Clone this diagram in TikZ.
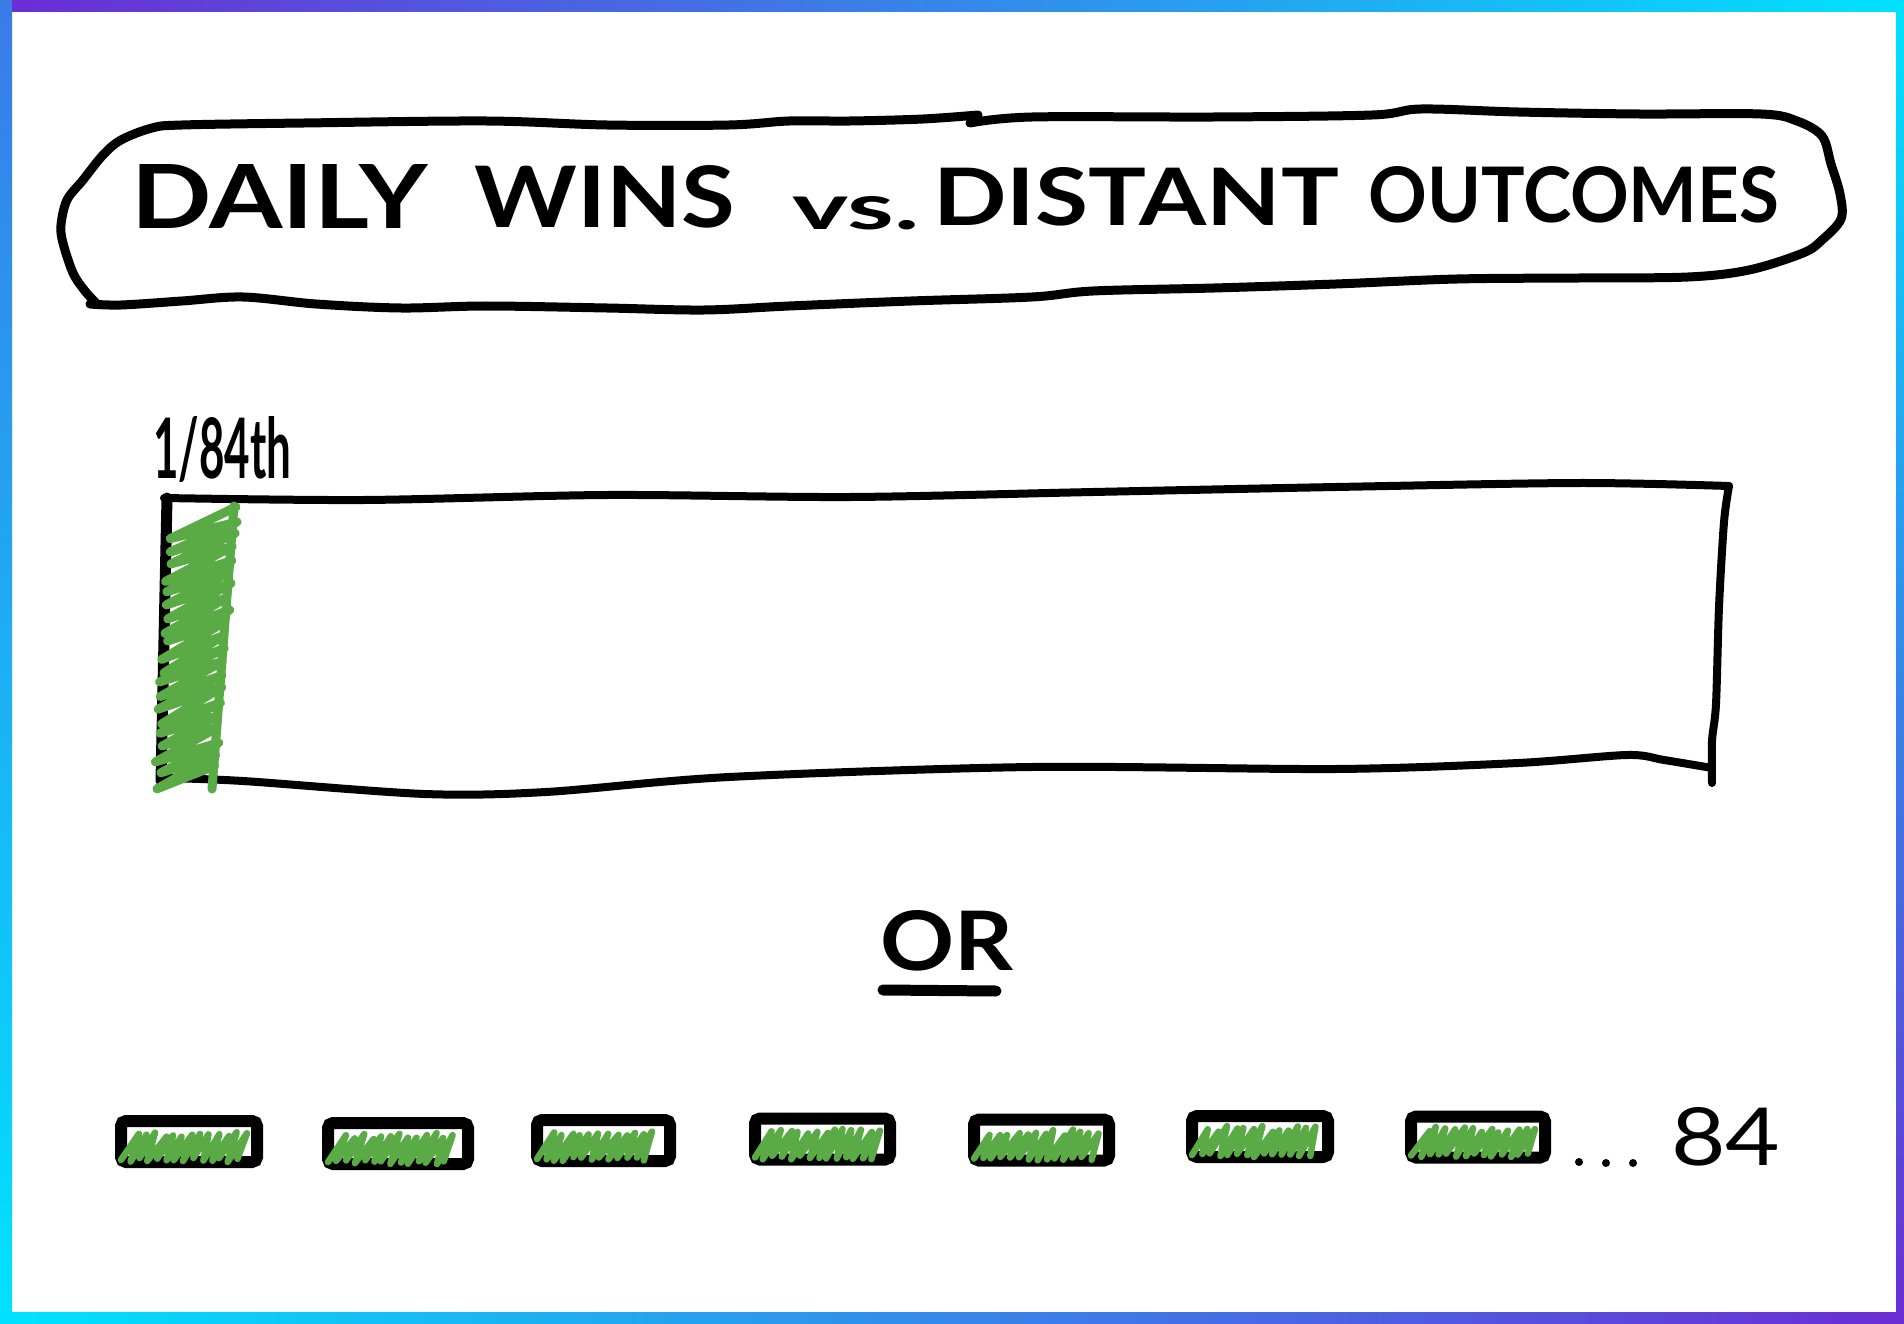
\documentclass[tikz,border=0pt]{standalone}
\usepackage{graphicx}
\usepackage{fontspec}
\setmainfont{Lato}
\usetikzlibrary{calc}
\definecolor{mygreen}{RGB}{90,170,70}
\definecolor{bpurple}{RGB}{107,45,212}
\definecolor{bblue}{RGB}{58,123,232}
\definecolor{bcyan}{RGB}{0,226,255}
\tikzset{
  ink/.style={draw=black, line width=9pt, line cap=round, line join=round},
  scrib/.style={draw=mygreen, line width=6.5pt, line cap=round, line join=round},
  smallbox/.style={draw=black, line width=12pt, rounded corners=5pt, inner sep=0pt, minimum height=41pt},
  txt/.style={inner sep=0pt, anchor=base west, font=\bfseries},
  dotn/.style={circle, fill=black, inner sep=0pt, minimum size=8pt}
}
\newcommand\boxscribble[2]{%
  \draw[scrib] ($(#1.south west)+(6,-8)$)
    \foreach \k in {1,...,#2}{
      -- ($(#1.south west)+({6+9*\k+8+2*rand},{-34+3*rand})$)
      -- ($(#1.south west)+({6+9*\k+1.5*rand},{-8+2*rand})$)
    };}
\begin{document}
\begin{tikzpicture}[x=1pt,y=-1pt]
\pgfmathsetseed{7}
\useasboundingbox (0,0) rectangle (1904,1324);
\fill[white] (0,0) rectangle (1904,1324);
% gradient frame
\shade[left color=bpurple, right color=bcyan] (12,0) rectangle (1904,12);
\shade[top color=bblue, bottom color=bcyan] (0,0) rectangle (12,1324);
\shade[top color=bcyan, bottom color=bpurple] (1896,12) rectangle (1904,1324);
\shade[left color=bcyan, right color=bpurple] (12,1312) rectangle (1896,1324);

% title bubble
\draw[ink] plot[smooth, tension=0.55] coordinates {(97,304) (85,291) (73,273) (63,243) (61,225) (67,200) (83,180) (103,155) (121,140) (152,128) (182,125) (304,123) (486,121) (607,125) (729,125) (789,121) (850,121) (923,119) (978,115)};
\draw[ink] plot[smooth, tension=0.55] coordinates {(970,123) (1032,117) (1214,117) (1372,115) (1421,109) (1518,112) (1639,114) (1761,114) (1797,121) (1822,136) (1831,164) (1840,194) (1841,219) (1822,240) (1803,253) (1749,270) (1688,277) (1579,278) (1457,279) (1336,284) (1214,288) (1093,291) (1032,297) (911,301) (789,306) (704,310) (607,308) (486,306) (401,308) (316,304) (243,297) (182,301) (121,305) (90,304)};

% title text
\node[txt] (t1) at (131,229) {\resizebox{296pt}{64pt}{\fontsize{86}{90}\selectfont DAILY}};
\node[txt] (t2) at (474,228) {\resizebox{261pt}{62pt}{\fontsize{86}{90}\selectfont WINS}};
\node[txt] (t3) at (792,230) {\resizebox{127pt}{33pt}{\fontsize{86}{90}\selectfont vs.}};
\node[txt] (t4) at (933,226) {\resizebox{406pt}{58pt}{\fontsize{86}{90}\selectfont DISTANT}};
\node[txt] (t5) at (1368,223) {\resizebox{411pt}{56pt}{\fontsize{86}{90}\selectfont\bfseries OUTCOMES}};

% label
\node[txt] (frac) at (153,478) {\resizebox{138pt}{62pt}{1/84th}};

% big bar
\draw[ink, line width=8pt] plot[smooth, tension=0.5] coordinates {(164,498) (364,500) (607,495) (850,497) (1093,492) (1336,487) (1579,483) (1729,486)};
\draw[ink, line width=8pt] plot[smooth, tension=0.5] coordinates {(1729,486) (1724,522) (1719,607) (1716,704) (1712,741) (1712,783)};
\draw[ink, line width=8pt] plot[smooth, tension=0.5] coordinates {(1712,768) (1664,760) (1627,755) (1518,763) (1336,769) (1032,767) (729,777) (546,792) (425,794) (243,781) (164,778)};
\draw[ink, line width=11pt] (167,498) -- (161,781);
% green fill of the big bar
\draw[scrib, line width=9pt] (236,507)
  \foreach \k in {1,...,20}{
    -- ({170-12*\k/20+4*rand},{507+13*\k+20+3*rand})
    -- ({236-22*\k/20+3*rand},{507+13*\k+2*rand})
  };
\draw[scrib, line width=9pt] (234,506) -- (212,789);

% OR
\node[txt] (or) at (880,970) {\resizebox{133pt}{60pt}{OR}};
\draw[ink, line width=11pt] (883,990) -- (996,991);

% small boxes
\node[smallbox, minimum width=136pt] (b1) at (189,1141.5) {};
\node[smallbox, minimum width=140pt] (b2) at (398,1143.5) {};
\node[smallbox, minimum width=133pt] (b3) at (603.5,1140.5) {};
\node[smallbox, minimum width=135pt] (b4) at (822.5,1139) {};
\node[smallbox, minimum width=135pt] (b5) at (1041.5,1140) {};
\node[smallbox, minimum width=136pt] (b6) at (1260,1136.5) {};
\node[smallbox, minimum width=134pt] (b7) at (1478,1137) {};
\boxscribble{b1}{13}
\boxscribble{b2}{13}
\boxscribble{b3}{12}
\boxscribble{b4}{13}
\boxscribble{b5}{13}
\boxscribble{b6}{13}
\boxscribble{b7}{13}

% dots and count
\node[dotn] (d1) at (1579,1162) {};
\node[dotn] (d2) at (1606,1163) {};
\node[dotn] (d3) at (1633,1163) {};
\node[txt, font=\mdseries] (n84) at (1671,1165) {\resizebox{109pt}{58pt}{84}};
\end{tikzpicture}
\end{document}
